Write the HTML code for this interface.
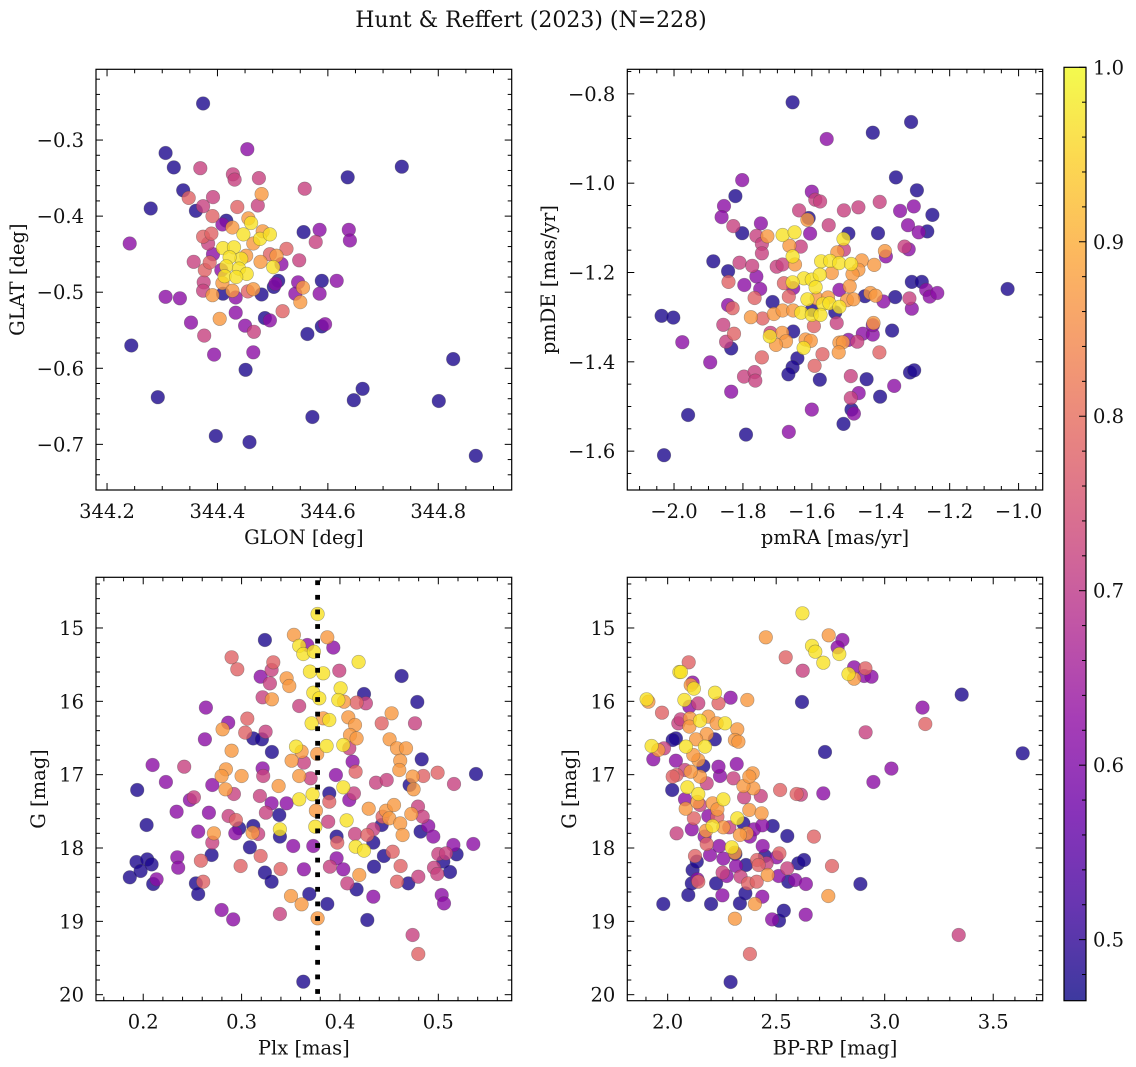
<!DOCTYPE html>
<html><head><meta charset="utf-8"><title>Hunt & Reffert (2023)</title>
<style>
html,body{margin:0;padding:0;background:#fff;}
svg{display:block;font-family:"DejaVu Serif","Liberation Serif",serif;}
</style></head>
<body>
<svg id="fig" width="1136" height="1067" viewBox="0 0 1136 1067" xmlns="http://www.w3.org/2000/svg">
<defs>
<linearGradient id="plasmaGrad" x1="0" y1="1" x2="0" y2="0"></linearGradient>
</defs>
<text x="531" y="27" font-size="22" text-anchor="middle" fill="#111">Hunt &amp; Reffert (2023) (N=228)</text>
</svg>
<script>
// ---- Panel 1: GLON vs GLAT ----
const glon = [344.374,344.306,344.321,344.454,344.369,344.428,344.431,344.475,344.558,344.734,344.636,344.338,344.48,344.348,344.392,344.279,344.361,344.374,344.436,344.473,344.391,344.416,344.409,344.456,344.461,344.427,344.241,344.556,344.585,344.638,344.64,344.578,344.374,344.389,344.383,344.41,344.43,344.447,344.477,344.495,344.482,344.465,344.443,344.452,344.422,344.525,344.507,344.495,344.392,344.357,344.377,344.386,344.478,344.501,344.516,344.548,344.416,344.439,344.453,344.413,344.434,344.407,344.375,344.374,344.391,344.41,344.409,344.427,344.433,344.455,344.465,344.48,344.502,344.51,344.505,344.546,344.555,344.541,344.55,344.589,344.616,344.585,344.306,344.332,344.404,344.433,344.486,344.495,344.518,344.352,344.45,344.466,344.563,344.589,344.595,344.244,344.376,344.394,344.465,344.451,344.827,344.292,344.663,344.647,344.801,344.572,344.397,344.458,344.868];
const glat = [-0.252,-0.317,-0.336,-0.312,-0.337,-0.345,-0.352,-0.350,-0.364,-0.335,-0.349,-0.366,-0.371,-0.376,-0.375,-0.39,-0.393,-0.387,-0.388,-0.386,-0.4,-0.406,-0.411,-0.403,-0.409,-0.415,-0.436,-0.421,-0.418,-0.418,-0.432,-0.434,-0.427,-0.423,-0.436,-0.442,-0.441,-0.424,-0.43,-0.424,-0.42,-0.436,-0.456,-0.452,-0.454,-0.443,-0.452,-0.45,-0.45,-0.46,-0.471,-0.461,-0.46,-0.467,-0.463,-0.458,-0.466,-0.469,-0.476,-0.479,-0.48,-0.471,-0.487,-0.498,-0.504,-0.502,-0.488,-0.498,-0.507,-0.499,-0.496,-0.503,-0.493,-0.485,-0.489,-0.487,-0.494,-0.502,-0.513,-0.485,-0.485,-0.502,-0.506,-0.508,-0.535,-0.527,-0.534,-0.537,-0.525,-0.54,-0.544,-0.552,-0.555,-0.545,-0.542,-0.57,-0.557,-0.582,-0.579,-0.602,-0.588,-0.638,-0.627,-0.642,-0.643,-0.664,-0.689,-0.697,-0.715];
const prob1 = [0.48,0.48,0.48,0.62,0.72,0.72,0.72,0.72,0.72,0.48,0.48,0.48,0.87,0.78,0.72,0.48,0.48,0.72,0.78,0.72,0.78,0.48,0.62,0.87,0.97,0.87,0.62,0.48,0.62,0.62,0.62,0.72,0.78,0.78,0.72,0.97,0.97,0.97,0.97,0.97,0.87,0.87,0.97,0.87,0.97,0.78,0.87,0.78,0.62,0.72,0.78,0.78,0.87,0.97,0.62,0.72,0.97,0.97,0.97,0.97,0.97,0.62,0.72,0.72,0.87,0.48,0.87,0.87,0.62,0.78,0.87,0.48,0.48,0.48,0.62,0.62,0.87,0.62,0.87,0.48,0.62,0.62,0.62,0.62,0.87,0.62,0.48,0.62,0.78,0.62,0.62,0.72,0.48,0.48,0.62,0.48,0.72,0.62,0.62,0.48,0.48,0.48,0.48,0.48,0.48,0.48,0.48,0.48,0.48];

// ---- Panel 2: pmRA vs pmDE ----
const pmra = [-1.656,-1.312,-1.423,-1.557,-1.356,-1.802,-1.822,-1.295,-1.855,-1.862,-1.25,-1.6,-1.59,-1.576,-1.637,-1.609,-1.613,-1.507,-1.465,-1.403,-1.344,-1.304,-1.321,-1.29,-1.265,-1.828,-1.748,-1.802,-1.761,-1.729,-1.685,-1.65,-1.605,-1.551,-1.494,-1.508,-1.408,-1.665,-1.632,-1.745,-1.745,-1.526,-1.507,-1.388,-1.385,-1.331,-1.319,-1.886,-1.81,-1.773,-1.702,-1.685,-1.649,-1.656,-1.573,-1.547,-1.521,-1.486,-1.455,-1.419,-1.465,-1.482,-1.542,-1.623,-1.6,-1.577,-1.589,-1.656,-1.843,-1.842,-1.796,-1.761,-1.75,-1.681,-1.654,-1.766,-1.714,-1.667,-1.613,-1.586,-1.553,-1.568,-1.549,-1.52,-1.52,-1.498,-1.479,-1.49,-1.446,-1.43,-1.415,-1.392,-1.358,-1.31,-1.281,-1.268,-1.258,-1.236,-1.032,-1.317,-1.31,-1.843,-1.83,-2.036,-2.002,-1.976,-1.777,-1.743,-1.71,-1.685,-1.654,-1.631,-1.6,-1.594,-1.6,-1.575,-1.532,-1.528,-1.857,-1.826,-1.72,-1.686,-1.654,-1.722,-1.675,-1.704,-1.618,-1.603,-1.624,-1.52,-1.51,-1.522,-1.494,-1.468,-1.452,-1.423,-1.421,-1.423,-1.367,-1.404,-1.569,-1.745,-1.849,-1.834,-1.895,-1.642,-1.656,-1.668,-1.592,-1.797,-1.766,-1.764,-1.577,-1.487,-1.441,-1.361,-1.315,-1.303,-1.834,-1.464,-1.487,-1.402,-1.485,-1.478,-1.6,-1.959,-1.508,-1.791,-1.667,-2.029];
const pmde = [-0.819,-0.863,-0.887,-0.901,-0.987,-0.993,-1.029,-1.016,-1.051,-1.076,-1.071,-1.019,-1.037,-1.041,-1.061,-1.078,-1.082,-1.061,-1.054,-1.042,-1.062,-1.052,-1.094,-1.11,-1.108,-1.096,-1.09,-1.112,-1.118,-1.119,-1.116,-1.11,-1.113,-1.094,-1.113,-1.125,-1.112,-1.14,-1.142,-1.136,-1.157,-1.155,-1.149,-1.152,-1.164,-1.142,-1.148,-1.175,-1.178,-1.185,-1.187,-1.182,-1.182,-1.164,-1.175,-1.174,-1.179,-1.181,-1.173,-1.183,-1.194,-1.204,-1.201,-1.213,-1.216,-1.205,-1.233,-1.222,-1.197,-1.221,-1.228,-1.209,-1.237,-1.224,-1.235,-1.257,-1.266,-1.254,-1.26,-1.258,-1.256,-1.27,-1.269,-1.239,-1.277,-1.262,-1.26,-1.231,-1.253,-1.246,-1.252,-1.265,-1.255,-1.221,-1.221,-1.239,-1.254,-1.246,-1.237,-1.258,-1.281,-1.273,-1.28,-1.297,-1.301,-1.356,-1.3,-1.303,-1.293,-1.285,-1.285,-1.29,-1.284,-1.32,-1.295,-1.295,-1.289,-1.313,-1.317,-1.337,-1.335,-1.335,-1.332,-1.343,-1.354,-1.362,-1.35,-1.353,-1.369,-1.357,-1.356,-1.379,-1.351,-1.355,-1.337,-1.339,-1.313,-1.318,-1.33,-1.379,-1.383,-1.39,-1.355,-1.37,-1.401,-1.392,-1.412,-1.428,-1.409,-1.433,-1.423,-1.442,-1.44,-1.432,-1.439,-1.454,-1.424,-1.419,-1.467,-1.47,-1.481,-1.478,-1.507,-1.516,-1.507,-1.519,-1.539,-1.563,-1.557,-1.609];
const prob2 = [0.48,0.48,0.48,0.62,0.48,0.62,0.48,0.48,0.62,0.62,0.48,0.62,0.72,0.72,0.72,0.48,0.87,0.72,0.72,0.72,0.62,0.62,0.62,0.62,0.48,0.72,0.62,0.48,0.72,0.87,0.97,0.97,0.62,0.72,0.48,0.97,0.48,0.87,0.72,0.72,0.72,0.87,0.72,0.87,0.62,0.72,0.62,0.48,0.72,0.72,0.72,0.72,0.87,0.97,0.97,0.97,0.97,0.97,0.87,0.87,0.87,0.87,0.87,0.97,0.97,0.97,0.97,0.97,0.48,0.78,0.62,0.62,0.62,0.78,0.62,0.78,0.48,0.78,0.97,0.87,0.87,0.97,0.97,0.62,0.97,0.87,0.87,0.87,0.48,0.87,0.87,0.62,0.48,0.48,0.48,0.62,0.62,0.62,0.48,0.72,0.62,0.62,0.78,0.48,0.48,0.62,0.87,0.78,0.87,0.87,0.87,0.97,0.48,0.78,0.97,0.97,0.48,0.72,0.72,0.78,0.72,0.87,0.48,0.97,0.87,0.87,0.87,0.87,0.97,0.87,0.87,0.87,0.62,0.72,0.62,0.62,0.87,0.62,0.48,0.78,0.78,0.78,0.72,0.48,0.62,0.48,0.48,0.48,0.78,0.72,0.72,0.72,0.48,0.72,0.48,0.62,0.48,0.48,0.62,0.62,0.72,0.48,0.48,0.62,0.62,0.48,0.48,0.48,0.62,0.48];

// ---- Panel 3: Plx vs G ----
const plx = [0.3773,0.3532,0.3871,0.3237,0.3586,0.3668,0.3627,0.3735,0.3932,0.2898,0.3322,0.419,0.2956,0.3193,0.3305,0.3288,0.3458,0.3485,0.3695,0.383,0.3993,0.4627,0.3214,0.3308,0.3729,0.379,0.4007,0.3983,0.4041,0.4244,0.4169,0.4264,0.4786,0.2637,0.3586,0.3058,0.4525,0.2864,0.2807,0.3037,0.3244,0.3119,0.3207,0.2627,0.3712,0.383,0.3892,0.4085,0.4153,0.4102,0.4169,0.4424,0.4763,0.4505,0.458,0.4671,0.2898,0.3308,0.3553,0.361,0.3864,0.4034,0.4095,0.3769,0.3508,0.3634,0.4129,0.4613,0.4831,0.2095,0.2417,0.2231,0.1939,0.2841,0.2797,0.3,0.3214,0.322,0.3586,0.3702,0.3959,0.4159,0.4603,0.474,0.4847,0.4993,0.5383,0.4366,0.4475,0.4708,0.4749,0.5159,0.2702,0.2837,0.2922,0.3376,0.3892,0.4034,0.4142,0.2475,0.2515,0.3186,0.3305,0.3458,0.3586,0.3722,0.3892,0.4095,0.2339,0.2668,0.3247,0.3383,0.3756,0.4292,0.4468,0.4549,0.4725,0.4793,0.2034,0.2868,0.2942,0.4068,0.4434,0.4502,0.4613,0.4841,0.3749,0.3881,0.2559,0.2719,0.2976,0.2936,0.3119,0.3112,0.3169,0.339,0.339,0.3966,0.3973,0.4153,0.4278,0.4339,0.4424,0.4637,0.482,0.4898,0.4949,0.2702,0.3085,0.3525,0.3729,0.4159,0.4244,0.4339,0.5153,0.5356,0.2695,0.3193,0.3966,0.4447,0.4536,0.5,0.5078,0.5186,0.1932,0.2041,0.2085,0.2346,0.2586,0.299,0.3397,0.3634,0.3898,0.4034,0.4346,0.4617,0.4956,0.5051,0.499,0.5119,0.1864,0.1973,0.2356,0.2102,0.2136,0.2536,0.261,0.3237,0.3305,0.4075,0.4169,0.4197,0.458,0.4695,0.4797,0.5034,0.5058,0.2559,0.3502,0.3688,0.361,0.3871,0.4339,0.2797,0.2915,0.339,0.3773,0.4278,0.4739,0.4797,0.3627];
const gmag3 = [14.809,15.095,15.127,15.164,15.245,15.232,15.355,15.323,15.268,15.4,15.468,15.464,15.564,15.664,15.573,15.755,15.686,15.791,15.595,15.618,15.582,15.655,15.945,15.973,15.882,15.959,15.823,15.982,16.005,15.9,16.018,16.027,16.009,16.086,16.064,16.236,16.164,16.291,16.382,16.427,16.414,16.505,16.518,16.518,16.3,16.232,16.255,16.218,16.323,16.459,16.505,16.3,16.3,16.518,16.641,16.641,16.673,16.691,16.618,16.686,16.609,16.595,16.641,16.718,16.809,16.836,16.823,16.809,16.791,16.868,16.891,17.1,17.209,16.927,17.018,17.018,16.914,17.018,17.018,17.05,17.005,16.959,16.936,17.027,17.018,16.973,16.991,17.109,17.073,17.141,17.2,17.127,17.141,17.2,17.264,17.155,17.255,17.173,17.255,17.345,17.309,17.291,17.391,17.391,17.336,17.268,17.368,17.345,17.505,17.518,17.518,17.55,17.491,17.464,17.491,17.414,17.536,17.436,17.686,17.564,17.618,17.623,17.573,17.595,17.664,17.573,17.709,17.641,17.777,17.8,17.732,17.8,17.7,17.791,17.809,17.745,17.845,17.845,17.927,17.809,17.823,17.745,17.686,17.823,17.777,17.7,17.845,17.927,17.991,17.973,17.973,17.982,18.036,17.927,17.959,17.945,18.095,18.109,18.141,18.109,18.05,18.082,18.073,18.086,18.191,18.155,18.223,18.127,18.173,18.245,18.286,18.291,18.255,18.291,18.255,18.245,18.268,18.186,18.355,18.327,18.4,18.314,18.268,18.491,18.427,18.482,18.459,18.336,18.459,18.482,18.564,18.368,18.459,18.482,18.391,18.641,18.755,18.627,18.655,18.627,18.768,18.764,18.664,18.845,18.973,18.9,18.959,18.982,19.186,19.445,19.823];
const prob3 = [0.97,0.87,0.87,0.48,0.97,0.62,0.97,0.97,0.62,0.78,0.78,0.97,0.78,0.62,0.72,0.72,0.87,0.87,0.97,0.97,0.72,0.48,0.72,0.87,0.97,0.97,0.97,0.97,0.87,0.48,0.78,0.72,0.48,0.62,0.72,0.78,0.87,0.62,0.87,0.78,0.72,0.48,0.48,0.62,0.97,0.87,0.97,0.87,0.87,0.87,0.87,0.78,0.72,0.87,0.87,0.87,0.87,0.48,0.97,0.87,0.97,0.97,0.72,0.87,0.87,0.72,0.62,0.87,0.48,0.62,0.72,0.62,0.48,0.87,0.87,0.87,0.62,0.72,0.87,0.72,0.62,0.78,0.87,0.87,0.78,0.78,0.48,0.72,0.72,0.48,0.87,0.72,0.62,0.87,0.72,0.87,0.48,0.97,0.72,0.62,0.72,0.72,0.62,0.62,0.97,0.97,0.78,0.62,0.62,0.62,0.72,0.48,0.87,0.87,0.87,0.87,0.87,0.72,0.48,0.72,0.78,0.97,0.78,0.87,0.87,0.72,0.97,0.72,0.62,0.87,0.48,0.62,0.48,0.87,0.72,0.97,0.48,0.48,0.78,0.72,0.78,0.72,0.48,0.87,0.48,0.62,0.62,0.72,0.48,0.62,0.62,0.97,0.97,0.48,0.62,0.62,0.48,0.78,0.62,0.48,0.78,0.72,0.72,0.48,0.48,0.48,0.48,0.62,0.78,0.78,0.78,0.62,0.72,0.62,0.48,0.78,0.72,0.48,0.72,0.48,0.48,0.48,0.62,0.48,0.62,0.48,0.78,0.48,0.48,0.72,0.48,0.87,0.78,0.48,0.72,0.62,0.62,0.48,0.87,0.48,0.87,0.48,0.62,0.62,0.62,0.72,0.87,0.48,0.72,0.78,0.48];

// ---- Panel 4: BP-RP vs G ----
const bprp = [2.621,2.452,2.742,2.805,2.783,2.665,2.68,2.717,2.791,2.544,2.622,2.859,2.911,2.905,2.939,2.833,2.859,3.355,2.619,3.174,3.187,2.912,2.725,3.636,3.031,2.948,2.717,2.518,2.594,2.614,2.674,2.757,2.888,2.74,3.341,2.379,2.29,2.31,2.481,2.513,2.535,2.636,1.98,2.095,2.2,2.252,2.333,2.358,2.402,2.436,2.111,2.141,2.115,2.134,2.126,2.223,2.253,2.272,2.315,2.336,2.37,2.41,2.361,2.412,2.456,2.461,2.511,2.556,2.587,2.637,2.551,2.602,2.628,2.515,2.448,2.502,2.312,2.257,2.195,2.238,2.18,2.17,2.177,2.207,2.111,2.041,2.121,2.083,2.149,2.08,2.021,2.091,2.141,2.137,2.207,2.257,2.229,2.187,2.229,2.257,2.284,2.321,2.349,2.364,2.333,2.295,2.31,2.379,2.398,2.436,2.484,2.438,2.551,2.376,2.433,2.352,2.429,2.395,2.349,2.392,2.376,2.303,2.241,2.234,2.318,2.18,2.149,2.106,2.041,2.023,2.08,2.038,2.164,2.141,2.118,2.084,2.172,2.18,2.217,2.131,2.038,2.023,1.934,1.926,1.957,1.983,2.049,2.06,2.103,2.1,2.149,2.187,2.226,2.264,2.321,2.31,2.326,1.974,1.903,1.911,2.077,2.1,2.141,2.218,2.234,2.29,2.367,2.115,2.106,2.121,2.054,2.061,2.097,2.419,2.137];
const gmag4 = [14.8,15.127,15.1,15.164,15.264,15.245,15.323,15.473,15.355,15.4,15.582,15.536,15.55,15.655,15.664,15.627,15.691,15.909,16.009,16.086,16.309,16.423,16.691,16.709,16.918,17.1,17.255,17.209,17.264,17.273,17.845,18.245,18.491,18.655,19.186,19.445,19.827,18.964,18.973,18.991,18.855,18.909,18.764,18.641,18.764,18.645,18.755,18.618,18.764,18.664,18.482,18.459,18.3,18.186,18.109,18.482,18.336,18.382,18.245,18.391,18.482,18.459,18.232,18.164,18.209,18.368,18.382,18.459,18.436,18.491,18.277,18.209,18.164,18.073,18.109,18.127,18.082,18.145,18.095,17.973,17.945,17.845,17.764,17.7,17.745,17.8,17.595,17.464,17.414,17.336,17.209,17.173,17.264,17.373,17.391,17.336,17.473,17.564,17.573,17.718,17.718,17.595,17.664,17.8,17.823,17.991,18.064,17.845,17.745,17.691,17.7,17.973,17.836,17.482,17.527,17.309,17.291,17.186,17.155,16.982,17.027,17.05,17.018,16.891,16.855,17.118,17.027,16.959,17.005,17.027,16.936,16.809,16.882,16.8,16.732,16.618,16.618,16.445,16.518,16.518,16.505,16.527,16.791,16.609,16.664,16.641,16.3,16.245,16.232,16.345,16.264,16.209,16.3,16.3,16.382,16.527,16.55,16.155,15.973,16.005,15.982,16.073,16.027,15.882,16.027,15.95,15.982,15.745,15.777,15.827,15.6,15.6,15.468,18.232,18.427];
const prob4 = [0.97,0.87,0.87,0.62,0.62,0.97,0.97,0.97,0.97,0.78,0.72,0.62,0.78,0.62,0.62,0.97,0.87,0.48,0.48,0.62,0.78,0.72,0.48,0.48,0.62,0.62,0.62,0.78,0.78,0.72,0.78,0.78,0.48,0.87,0.72,0.78,0.48,0.87,0.62,0.48,0.48,0.62,0.48,0.48,0.48,0.62,0.48,0.48,0.87,0.62,0.48,0.78,0.48,0.48,0.78,0.48,0.72,0.62,0.62,0.72,0.78,0.78,0.48,0.78,0.72,0.87,0.62,0.48,0.62,0.62,0.72,0.48,0.48,0.78,0.48,0.62,0.48,0.62,0.62,0.62,0.78,0.62,0.87,0.97,0.62,0.72,0.78,0.87,0.72,0.62,0.48,0.97,0.97,0.87,0.87,0.97,0.87,0.62,0.78,0.87,0.72,0.97,0.48,0.87,0.87,0.97,0.87,0.62,0.62,0.62,0.48,0.62,0.48,0.87,0.87,0.72,0.72,0.87,0.87,0.87,0.87,0.72,0.62,0.62,0.62,0.72,0.87,0.87,0.78,0.78,0.72,0.62,0.48,0.87,0.87,0.97,0.97,0.87,0.48,0.87,0.48,0.48,0.62,0.97,0.87,0.72,0.72,0.72,0.87,0.87,0.97,0.87,0.87,0.97,0.87,0.87,0.87,0.78,0.97,0.87,0.97,0.62,0.72,0.97,0.78,0.62,0.87,0.62,0.87,0.97,0.97,0.97,0.78,0.78,0.62];

// ---- Axis tick arrays ----
const p1xTicks = [344.2,344.4,344.6,344.8];
const p1yTicks = [-0.3,-0.4,-0.5,-0.6,-0.7];
const p2xTicks = [-2.0,-1.8,-1.6,-1.4,-1.2,-1.0];
const p2yTicks = [-0.8,-1.0,-1.2,-1.4,-1.6];
const p3xTicks = [0.2,0.3,0.4,0.5];
const gTicks = [15,16,17,18,19,20];
const p4xTicks = [2.0,2.5,3.0,3.5];
const cbTicks = [0.5,0.6,0.7,0.8,0.9,1.0];
const plxRef = [0.3773];

const NS = "http://www.w3.org/2000/svg";
const svg = document.getElementById('fig');
const CMIN = 0.465, CMAX = 1.0;
const FS = 19.5;
const plasmaStops = [[13,8,135],[65,4,157],[106,0,168],[143,13,164],[177,42,144],[204,71,120],[225,100,98],[242,132,75],[252,166,54],[252,206,37],[240,249,33]];
function plasma(t){
  t = Math.max(0, Math.min(1, t));
  const f = t * 10, i = Math.min(9, Math.floor(f)), r = f - i;
  const a = plasmaStops[i], b = plasmaStops[i+1];
  return 'rgb(' + [0,1,2].map(k => Math.round(a[k] + (b[k]-a[k]) * r)).join(',') + ')';
}
function mk(tag, attrs, parent){
  const e = document.createElementNS(NS, tag);
  for (const k in attrs) e.setAttribute(k, attrs[k]);
  (parent || svg).appendChild(e);
  return e;
}
function fmt(v, d){ const s = v.toFixed(d); return s.replace('-', '\u2212'); }

function panel(cfg, xs, ys, cs){
  const g = mk('g', {});
  
  
  const X = v => cfg.x0 + (v - cfg.xmin) / (cfg.xmax - cfg.xmin) * (cfg.x1 - cfg.x0);
  const Y = cfg.invert ? (v => cfg.y0 + (v - cfg.ymin) / (cfg.ymax - cfg.ymin) * (cfg.y1 - cfg.y0))
                       : (v => cfg.y1 - (v - cfg.ymin) / (cfg.ymax - cfg.ymin) * (cfg.y1 - cfg.y0));
  const idx = xs.map((_, i) => i).sort((a, b) => cs[a] - cs[b]);
  const pts = mk('g', {}, g);
  
  
  idx.forEach(i => {
    const c = mk('circle', {cx: X(xs[i]).toFixed(1), cy: Y(ys[i]).toFixed(1), r: 6.8,
      fill: plasma((cs[i] - CMIN) / (CMAX - CMIN)), 'fill-opacity': 0.8,
      stroke: 'rgba(70,70,70,0.45)', 'stroke-width': 0.6}, pts);
    
    
  });
  if (cfg.vline) {
    cfg.vline.forEach(v => {
      const lg = mk('g', {fill: '#000'}, g);
      
      
      const xc = X(v);
      for (let y = cfg.y0 + 3; y < cfg.y1 - 2; y += 14.6) {
        mk('rect', {x: (xc - 2.4).toFixed(1), y: y.toFixed(1), width: 4.8, height: 4.8}, lg);
      }
    });
  }
  const fr = mk('rect', {x: cfg.x0, y: cfg.y0, width: cfg.x1 - cfg.x0, height: cfg.y1 - cfg.y0, fill: 'none', stroke: '#000', 'stroke-width': 1.2}, g);
  
  
  const tk = mk('g', {stroke: '#000', 'stroke-width': 1}, g);
  const lo = Math.min(cfg.xmin, cfg.xmax), hi = Math.max(cfg.xmin, cfg.xmax);
  for (let v = Math.ceil(lo / cfg.xminor - 1e-6) * cfg.xminor; v <= hi + 1e-9; v += cfg.xminor) {
    const isMaj = cfg.xticks.some(t => Math.abs(t - v) < cfg.xminor / 10);
    const L = isMaj ? 7 : 4, x = X(v);
    mk('line', {x1: x, x2: x, y1: cfg.y1, y2: cfg.y1 - L}, tk);
    mk('line', {x1: x, x2: x, y1: cfg.y0, y2: cfg.y0 + L}, tk);
  }
  const ylo = Math.min(cfg.ymin, cfg.ymax), yhi = Math.max(cfg.ymin, cfg.ymax);
  for (let v = Math.ceil(ylo / cfg.yminor - 1e-6) * cfg.yminor; v <= yhi + 1e-9; v += cfg.yminor) {
    const isMaj = cfg.yticks.some(t => Math.abs(t - v) < cfg.yminor / 10);
    const L = isMaj ? 7 : 4, y = Y(v);
    mk('line', {x1: cfg.x0, x2: cfg.x0 + L, y1: y, y2: y}, tk);
    mk('line', {x1: cfg.x1, x2: cfg.x1 - L, y1: y, y2: y}, tk);
  }
  cfg.xticks.forEach(t => {
    const e = mk('text', {x: X(t), y: cfg.y1 + 28, 'font-size': FS, 'text-anchor': 'middle', fill: '#111'}, g);
    e.textContent = fmt(t, cfg.xd);
    
    
  });
  cfg.yticks.forEach(t => {
    const e = mk('text', {x: cfg.x0 - 12, y: Y(t) + 7, 'font-size': FS, 'text-anchor': 'end', fill: '#111'}, g);
    e.textContent = fmt(t, cfg.yd);
    
    
  });
  const xl = mk('text', {x: (cfg.x0 + cfg.x1) / 2, y: cfg.y1 + 54, 'font-size': FS, 'text-anchor': 'middle', fill: '#111'}, g);
  xl.textContent = cfg.xlabel;
  
  
  const yx = cfg.ylabx, yy = (cfg.y0 + cfg.y1) / 2;
  const yl = mk('text', {x: yx, y: yy, 'font-size': FS, 'text-anchor': 'middle', fill: '#111', transform: 'rotate(-90 ' + yx + ' ' + yy + ')'}, g);
  yl.textContent = cfg.ylabel;
  
  
}

panel({name:'panel-glon-glat', x0:96, x1:511.7, y0:69.3, y1:490, xmin:344.18, xmax:344.933, ymin:-0.760, ymax:-0.207,
  xticks:p1xTicks, yticks:p1yTicks, xminor:0.05, yminor:0.02, xd:1, yd:1, xlabel:'GLON [deg]', ylabel:'GLAT [deg]', ylabx:24}, glon, glat, prob1);
panel({name:'panel-pmra-pmde', x0:627.3, x1:1042.7, y0:69.3, y1:490, xmin:-2.1356, xmax:-0.930, ymin:-1.687, ymax:-0.745,
  xticks:p2xTicks, yticks:p2yTicks, xminor:0.05, yminor:0.05, xd:1, yd:1, xlabel:'pmRA [mas/yr]', ylabel:'pmDE [mas/yr]', ylabx:555}, pmra, pmde, prob2);
panel({name:'panel-plx-g', x0:96, x1:511.7, y0:577.3, y1:1000.7, xmin:0.152, xmax:0.5746, ymin:14.309, ymax:20.082, invert:true,
  xticks:p3xTicks, yticks:gTicks, xminor:0.02, yminor:0.2, xd:1, yd:0, xlabel:'Plx [mas]', ylabel:'G [mag]', ylabx:45, vline:plxRef}, plx, gmag3, prob3);
panel({name:'panel-bprp-g', x0:627.3, x1:1042.7, y0:577.3, y1:1000.7, xmin:1.814, xmax:3.728, ymin:14.309, ymax:20.082, invert:true,
  xticks:p4xTicks, yticks:gTicks, xminor:0.1, yminor:0.2, xd:1, yd:0, xlabel:'BP-RP [mag]', ylabel:'G [mag]', ylabx:576}, bprp, gmag4, prob4);

// ---- Colorbar ----
const grad = document.getElementById('plasmaGrad');
for (let k = 0; k <= 20; k++) {
  mk('stop', {offset: (k / 20), 'stop-color': plasma(k / 20), 'stop-opacity': 0.8}, grad);
}
const cb = {x0:1064, x1:1086, y0:67.3, y1:1000.7};
const CY = v => cb.y1 - (v - CMIN) / (CMAX - CMIN) * (cb.y1 - cb.y0);
const cbg = mk('g', {});


mk('rect', {x: cb.x0, y: cb.y0, width: cb.x1 - cb.x0, height: cb.y1 - cb.y0, fill: 'url(#plasmaGrad)', stroke: '#000', 'stroke-width': 1.2}, cbg);
for (let v = 0.48; v <= 1.0001; v += 0.02) {
  const maj = cbTicks.some(t => Math.abs(t - v) < 0.002);
  mk('line', {x1: cb.x1, x2: cb.x1 - (maj ? 7 : 4), y1: CY(v), y2: CY(v), stroke: '#000', 'stroke-width': 1}, cbg);
}
cbTicks.forEach(t => {
  const e = mk('text', {x: cb.x1 + 7, y: CY(t) + 7, 'font-size': FS, fill: '#111'}, cbg);
  e.textContent = t.toFixed(1);
  
  
});
</script>
</body></html>
